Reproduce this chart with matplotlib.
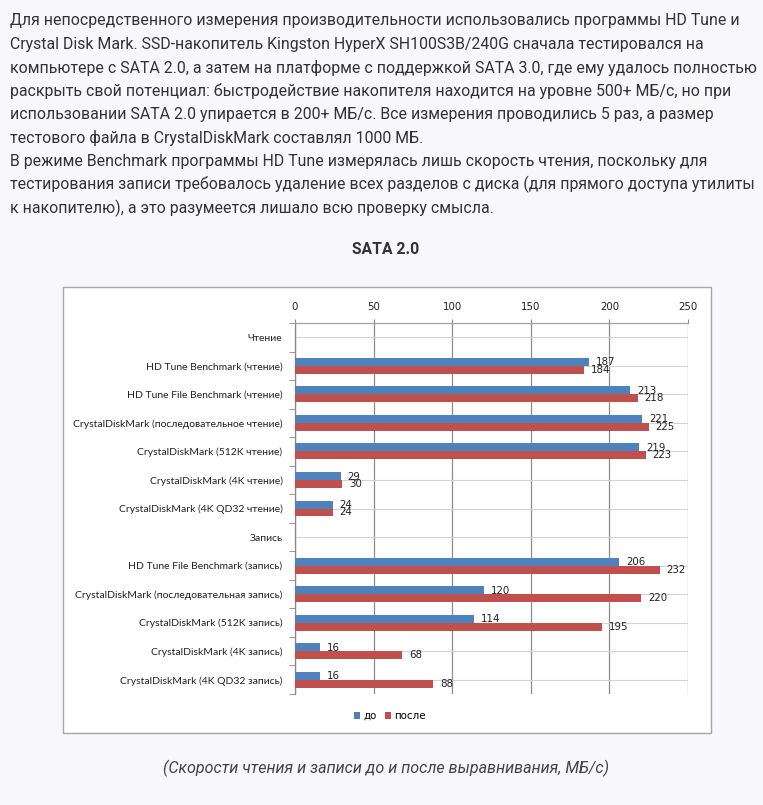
import matplotlib
matplotlib.use("Agg")
import matplotlib.pyplot as plt
from matplotlib.patches import Rectangle
import numpy as np

categories = [
    "Чтение",
    "HD Tune Benchmark (чтение)",
    "HD Tune File Benchmark (чтение)",
    "CrystalDiskMark (последовательное чтение)",
    "CrystalDiskMark (512K чтение)",
    "CrystalDiskMark (4K чтение)",
    "CrystalDiskMark (4K QD32 чтение)",
    "Запись",
    "HD Tune File Benchmark (запись)",
    "CrystalDiskMark (последовательная запись)",
    "CrystalDiskMark (512K запись)",
    "CrystalDiskMark (4K запись)",
    "CrystalDiskMark (4K QD32 запись)",
]
before = [None, 187, 213, 221, 219, 29, 24, None, 206, 120, 114, 16, 16]
after = [None, 184, 218, 225, 223, 30, 24, None, 232, 220, 195, 68, 88]
series_names = ["до", "после"]
x_ticks = [0, 50, 100, 150, 200, 250]

paragraph_lines = [
    "Для непосредственного измерения производительности использовались программы HD Tune и",
    "Crystal Disk Mark. SSD-накопитель Kingston HyperX SH100S3B/240G сначала тестировался на",
    "компьютере с SATA 2.0, а затем на платформе с поддержкой SATA 3.0, где ему удалось полностью",
    "раскрыть свой потенциал: быстродействие накопителя находится на уровне 500+ МБ/с, но при",
    "использовании SATA 2.0 упирается в 200+ МБ/с. Все измерения проводились 5 раз, а размер",
    "тестового файла в CrystalDiskMark составлял 1000 МБ.",
    "В режиме Benchmark программы HD Tune измерялась лишь скорость чтения, поскольку для",
    "тестирования записи требовалось удаление всех разделов с диска (для прямого доступа утилиты",
    "к накопителю), а это разумеется лишало всю проверку смысла.",
]
title = "SATA 2.0"
caption = "(Скорости чтения и записи до и после выравнивания, МБ/с)"

W, H = 763, 805
BG = "#f8f8fa"
fig = plt.figure(figsize=(W / 100, H / 100), dpi=100, facecolor=BG)

def fx(px):
    return px / W

def fy(py):
    return 1 - py / H

# paragraph text
for i, line in enumerate(paragraph_lines):
    yy = 21 + i * 23.4
    fig.text(fx(10), fy(yy), line, family="Roboto", fontsize=11.45,
             color="#333333", va="center", ha="left")

fig.text(fx(386), fy(250), title, family="Roboto", fontsize=11.3,
         fontweight="bold", color="#333333", va="center", ha="center")

fig.text(fx(386), fy(768), caption, family="Roboto", fontsize=11.6,
         fontstyle="italic", color="#444444", va="center", ha="center")

# chart box
box = Rectangle((fx(63), fy(733)), fx(711) - fx(63), fy(287) - fy(733),
                transform=fig.transFigure, facecolor="white",
                edgecolor="#a6a6a6", linewidth=1.0, zorder=-5)
fig.patches.append(box)

ax = fig.add_axes([fx(295), fy(694), fx(688) - fx(295), fy(323) - fy(694)])
ax.set_zorder(2)
ax.set_facecolor("white")

n = len(categories)
y = np.arange(n)
bh = 0.28
blue = "#4f81bd"
red = "#c0504d"
mask = [v is not None for v in before]
yb = y[mask] - bh / 2
ya = y[mask] + bh / 2
bv = np.array([v for v in before if v is not None])
av = np.array([v for v in after if v is not None])
ax.barh(yb, bv, height=bh, color=blue, zorder=3, label=series_names[0])
ax.barh(ya, av, height=bh, color=red, zorder=3, label=series_names[1])

for yy, v in zip(yb, bv):
    ax.text(v + 4.5, yy + 0.02, str(v), family="DejaVu Sans", fontsize=7.4,
            color="#222222", va="center", ha="left", zorder=4)
for yy, v in zip(ya, av):
    ax.text(v + 4.5, yy + 0.0, str(v), family="DejaVu Sans", fontsize=7.4,
            color="#222222", va="center", ha="left", zorder=4)

ax.set_xlim(0, 250)
ax.set_ylim(n - 0.5, -0.5)
ax.xaxis.tick_top()
ax.set_xticks(x_ticks)
ax.set_xticklabels([str(t) for t in x_ticks], family="DejaVu Sans",
                   fontsize=7.4, color="#222222")
ax.tick_params(axis="x", length=3, color="#888888", pad=5)

ax.set_yticks(y)
ax.set_yticklabels(categories, family="Lato", fontsize=7.5, color="#222222")
ax.set_yticks(np.arange(n + 1) - 0.5, minor=True)
ax.tick_params(axis="y", which="major", length=0, pad=9)
ax.tick_params(axis="y", which="minor", length=4, color="#888888")

ax.grid(axis="x", color="#8c8c8c", linewidth=0.9, zorder=1)
ax.grid(axis="y", which="major", color="#d4d4d4", linewidth=0.8, zorder=1)
ax.set_axisbelow(True)

for s in ["right", "bottom"]:
    ax.spines[s].set_visible(False)
ax.spines["top"].set_color("#a0a0a0")
ax.spines["left"].set_color("#888888")
ax.spines["top"].set_linewidth(0.9)
ax.spines["left"].set_linewidth(0.9)

leg = fig.legend(loc="center", bbox_to_anchor=(fx(390), fy(716)), ncol=2,
                 frameon=False, handlelength=0.6, handleheight=0.6,
                 handletextpad=0.3, columnspacing=0.8,
                 prop={"family": "DejaVu Sans", "size": 7.4})

fig.savefig("out.png", dpi=100, facecolor=BG)
